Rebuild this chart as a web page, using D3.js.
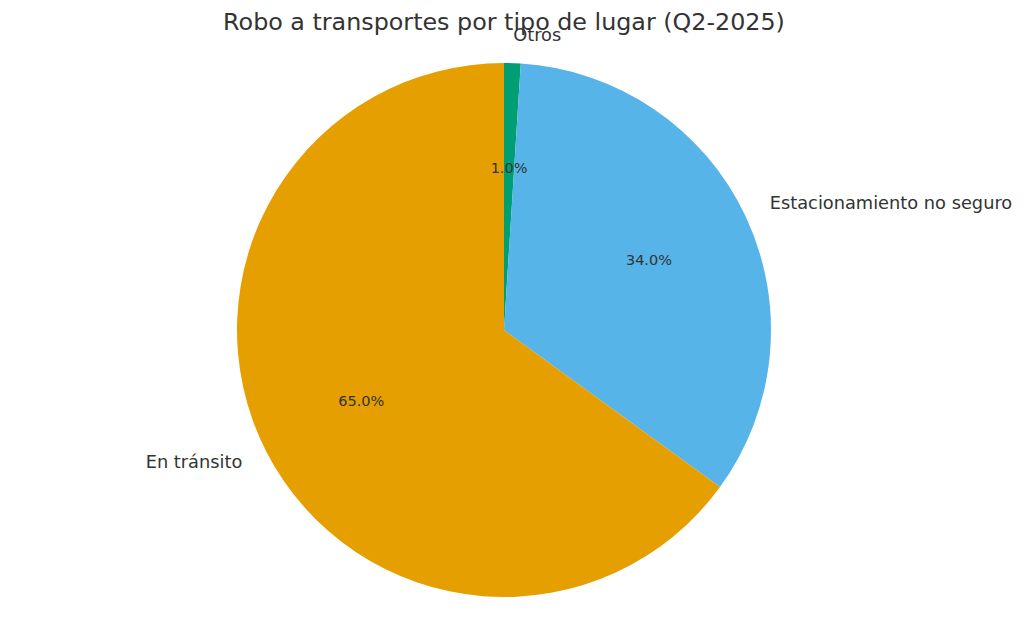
<!DOCTYPE html>
<html><head><meta charset="utf-8">
<script src="https://cdn.jsdelivr.net/npm/d3@7"></script>
<style>body{margin:0;background:#fff}</style></head>
<body><svg id="c" width="1024" height="632"></svg>
<script>
const categories = ["Otros", "Estacionamiento no seguro", "En tránsito"];
const values = [1.0, 34.0, 65.0];
const colors = ["#009E73", "#56B4E9", "#E69F00"];
const title = "Robo a transportes por tipo de lugar (Q2-2025)";

const svg = d3.select("#c");
const cx = 504, cy = 330, r = 267;
const g = svg.append("g").attr("transform", `translate(${cx},${cy})`);
const pie = d3.pie().sort(null).value(d => d)(values);
const arc = d3.arc().innerRadius(0).outerRadius(r);
g.selectAll("path").data(pie).join("path").attr("d", arc).attr("fill", (d,i) => colors[i]);
const font = "DejaVu Sans, sans-serif";
pie.forEach((d,i) => {
  const a = (d.startAngle + d.endAngle)/2;
  const sx = Math.sin(a), sy = -Math.cos(a);
  g.append("text").attr("x", sx*r*1.1).attr("y", sy*r*1.1 - 2).attr("dy","0.35em")
    .attr("text-anchor", sx > 0 ? "start" : "end")
    .attr("font-family", font).attr("font-size", 17.8).attr("fill", "#333")
    .text(categories[i]);
  g.append("text").attr("x", sx*r*0.6).attr("y", sy*r*0.6 - 2).attr("dy","0.35em")
    .attr("text-anchor", "middle")
    .attr("font-family", font).attr("font-size", 14.5).attr("fill", "#333")
    .text(d3.format(".1f")(values[i]) + "%");
});
svg.append("text").attr("x", 504).attr("y", 30).attr("text-anchor","middle")
  .attr("font-family", font).attr("font-size", 23.8).attr("fill", "#333").text(title);
</script></body></html>
